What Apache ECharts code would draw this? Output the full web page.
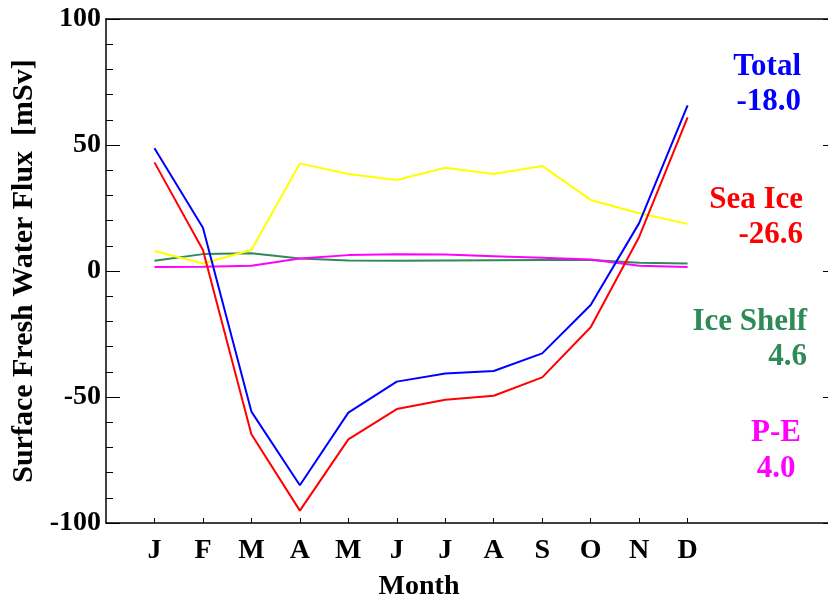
<!DOCTYPE html>
<html>
<head>
<meta charset="utf-8">
<script src="https://cdn.jsdelivr.net/npm/echarts@6/dist/echarts.min.js"></script>
<style>html,body{margin:0;padding:0;background:#fff}#c{width:828px;height:603px}</style>
</head>
<body>
<div id="c"></div>
<script>
const months = ['J','F','M','A','M','J','J','A','S','O','N','D'];
const monthPos = [1,2,3,4,5,6,7,8,9,10,11,12];
const total   = [48.7, 17.2, -55.8, -85.0, -56.2, -43.9, -40.7, -39.7, -32.7, -13.5, 19.0, 65.7];
const seaIce  = [43.1, 8.3, -64.8, -95.1, -66.8, -54.8, -51.1, -49.5, -42.2, -22.3, 13.5, 61.0];
const iceShelf= [4.1, 6.7, 7.0, 5.0, 4.2, 4.1, 4.2, 4.3, 4.4, 4.4, 3.3, 3.0];
const pMinusE = [1.6, 1.7, 2.1, 5.0, 6.3, 6.6, 6.5, 5.9, 5.3, 4.6, 2.1, 1.6];
const yellowS = [7.9, 3.0, 8.3, 42.7, 38.5, 36.1, 41.0, 38.5, 41.7, 28.2, 22.9, 18.7];
const yTicks  = [-100, -50, 0, 50, 100];
const labels = [
  {name:'Total', mean:'-18.0', color:'#0000ff'},
  {name:'Sea Ice', mean:'-26.6', color:'#ff0000'},
  {name:'Ice Shelf', mean:'4.6', color:'#2e8b57'},
  {name:'P-E', mean:'4.0', color:'#ff00ff'}
];

const FONT = '"Liberation Serif","Times New Roman",serif';
const pairs = arr => arr.map((v,i)=>[monthPos[i], v]);
const mkLine = (name, arr, color) => ({
  name, type:'line', data:pairs(arr), symbol:'none', xAxisIndex:0, yAxisIndex:0,
  lineStyle:{color, width:2}, itemStyle:{color}, silent:true, animation:false
});

const chart = echarts.init(document.getElementById('c'), null, {renderer:'canvas'});
const textPos = [
  {x:801, y1:67, y2:102, align:'right'},
  {x:803, y1:200, y2:235, align:'right'},
  {x:807, y1:322, y2:357, align:'right'},
  {x:776, y1:433, y2:469, align:'center'}
];
const graphics = [];
labels.forEach((l,i)=>{
  const p = textPos[i];
  graphics.push({type:'text', x:p.x, y:p.y1, style:{text:l.name, fill:l.color, font:'bold 31px '+FONT, textAlign:p.align, textVerticalAlign:'middle'}});
  graphics.push({type:'text', x:p.x, y:p.y2, style:{text:l.mean, fill:l.color, font:'bold 31px '+FONT, textAlign:p.align, textVerticalAlign:'middle'}});
});
graphics.push({type:'text', x:419, y:587, style:{text:'Month', fill:'#000', font:'bold 28px '+FONT, textAlign:'center', textVerticalAlign:'middle'}});

chart.setOption({
  animation:false,
  backgroundColor:'#fff',
  grid:{left:106, top:19, width:727, height:504, containLabel:false, outerBoundsMode:'none'},
  xAxis:[
    {type:'value', min:0, max:15, position:'bottom',
     axisLine:{show:true, onZero:false, lineStyle:{color:'#000', width:1.5}},
     axisTick:{show:true, inside:true, length:5, customValues:monthPos, lineStyle:{color:'#000', width:1}},
     axisLabel:{show:true, customValues:monthPos, formatter:v=>months[Math.round(v)-1]||'', color:'#000', fontFamily:FONT, fontWeight:'bold', fontSize:28, margin:14},
     splitLine:{show:false}},
    {type:'value', min:0, max:15, position:'top',
     axisLine:{show:true, onZero:false, lineStyle:{color:'#000', width:1.5}},
     axisTick:{show:false}, axisLabel:{show:false}, splitLine:{show:false}}
  ],
  yAxis:[
    {type:'value', min:-100, max:100, interval:50, position:'left',
     name:'Surface Fresh Water Flux  [mSv]', nameLocation:'middle', nameGap:65,
     nameTextStyle:{color:'#000', fontFamily:FONT, fontWeight:'bold', fontSize:30},
     axisLine:{show:true, onZero:false, lineStyle:{color:'#000', width:1.5}},
     axisTick:{show:true, inside:true, length:14, lineStyle:{color:'#000', width:1}},
     minorTick:{show:true, splitNumber:5, length:7, lineStyle:{color:'#000', width:1}},
     axisLabel:{show:true, color:'#000', fontFamily:FONT, fontWeight:'bold', fontSize:28, margin:5},
     splitLine:{show:false}},
    {type:'value', min:-100, max:100, interval:50, position:'right',
     axisLine:{show:true, onZero:false, lineStyle:{color:'#000', width:1.5}},
     axisTick:{show:true, inside:true, length:10, lineStyle:{color:'#000', width:1}},
     axisLabel:{show:false}, splitLine:{show:false}}
  ],
  series:[
    mkLine('Ice Shelf', iceShelf, '#2e8b57'),
    mkLine('P-E', pMinusE, '#ff00ff'),
    mkLine('Other', yellowS, '#ffff00'),
    mkLine('Sea Ice', seaIce, '#ff0000'),
    mkLine('Total', total, '#0000ff')
  ],
  graphic:graphics
});
</script>
</body>
</html>
